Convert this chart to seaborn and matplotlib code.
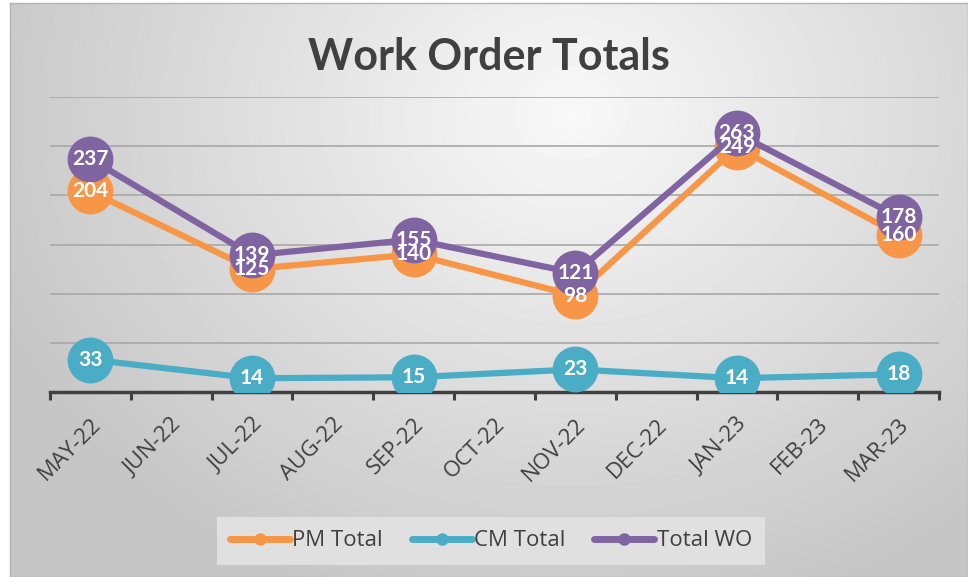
import numpy as np
import pandas as pd
import seaborn as sns
import matplotlib.pyplot as plt
from matplotlib.lines import Line2D

# data
months = ['MAY-22', 'JUN-22', 'JUL-22', 'AUG-22', 'SEP-22', 'OCT-22',
          'NOV-22', 'DEC-22', 'JAN-23', 'FEB-23', 'MAR-23']
report_months = ['MAY-22', 'JUL-22', 'SEP-22', 'NOV-22', 'JAN-23', 'MAR-23']
pm_total = [204, 125, 140, 98, 249, 160]
cm_total = [33, 14, 15, 23, 14, 18]
total_wo = [237, 139, 155, 121, 263, 178]

series_names = ['PM Total', 'CM Total', 'Total WO']
colors = {'PM Total': '#F79646', 'CM Total': '#4BACC6', 'Total WO': '#8064A2'}

rows = []
for name, vals in zip(series_names, [pm_total, cm_total, total_wo]):
    for m, v in zip(report_months, vals):
        rows.append({'series': name, 'month': m, 'pos': months.index(m), 'value': v})
df = pd.DataFrame(rows)

sns.set_theme(style='white')
plt.rcParams['font.family'] = ['Open Sans', 'DejaVu Sans']

fig = plt.figure(figsize=(9.68, 5.77), dpi=100)

# radial gradient background of the chart area
bg = fig.add_axes([10 / 968, 0, 958 / 968, 574 / 577], zorder=0)
h, w = 574, 958
yy, xx = np.mgrid[0:h, 0:w]
r = np.hypot((xx - 560) / 620, (yy - 110) / 520)
shade = 0.975 - 0.2 * np.clip(r, 0, 1)
bg.imshow(shade, cmap='gray', vmin=0, vmax=1, aspect='auto', interpolation='bilinear')
bg.set_xticks([])
bg.set_yticks([])
for s in bg.spines.values():
    s.set_color('#b4b4b4')
    s.set_linewidth(1)

ax = fig.add_axes([50 / 968, 1 - 392 / 577, 889 / 968, 295 / 577], zorder=1)
ax.patch.set_alpha(0)

sns.lineplot(data=df, x='pos', y='value', hue='series', hue_order=series_names,
             palette=colors, marker='o', markersize=33, markeredgewidth=0,
             linewidth=4.5, legend=False, sort=False, ax=ax, zorder=3)

for name in series_names:
    sub = df[df['series'] == name]
    for p, v in zip(sub['pos'], sub['value']):
        ax.text(p, v, str(v), ha='center', va='center', color='white',
                fontsize=15, fontweight='bold', family='Lato', zorder=6)

ax.set_xlim(-0.5, 10.5)
ax.set_ylim(0, 300)
ax.set_yticks(range(0, 301, 50))
ax.yaxis.grid(True, color='#a8a8a8', linewidth=1.2)
ax.tick_params(axis='y', length=0, labelleft=False)

ax.set_xticks(range(len(months)))
ax.set_xticklabels(months, rotation=45, ha='right', rotation_mode='anchor')
ax.set_xticks(np.arange(-0.5, len(months), 1), minor=True)
ax.tick_params(axis='x', which='major', bottom=False, length=0, pad=16,
               labelsize=16, colors='#404040')
ax.tick_params(axis='x', which='minor', bottom=True, length=6, width=2.2,
               color='#404040', direction='out')
ax.set_xlabel('')
ax.set_ylabel('')

for side in ['top', 'left', 'right']:
    ax.spines[side].set_visible(False)
ax.spines['bottom'].set_color('#404040')
ax.spines['bottom'].set_linewidth(2.5)

fig.text(489 / 968, 1 - 57 / 577, 'Work Order Totals', ha='center', va='center',
         fontsize=31, fontweight='bold', color='#404040', family='Lato')

handles = [Line2D([], [], color=colors[n], lw=5, marker='o', markersize=9,
                  markeredgewidth=0, solid_capstyle='round') for n in series_names]
leg = fig.legend(handles, series_names, loc='center', ncol=3,
                 bbox_to_anchor=(491 / 968, 1 - 541 / 577), frameon=True,
                 facecolor='#e0e0e0', edgecolor='none', fancybox=False, framealpha=1,
                 fontsize=16, handlelength=2.7, handletextpad=0.1, columnspacing=1.3,
                 labelcolor='#404040', borderpad=0.6)

fig.savefig('out.png', dpi=100)
